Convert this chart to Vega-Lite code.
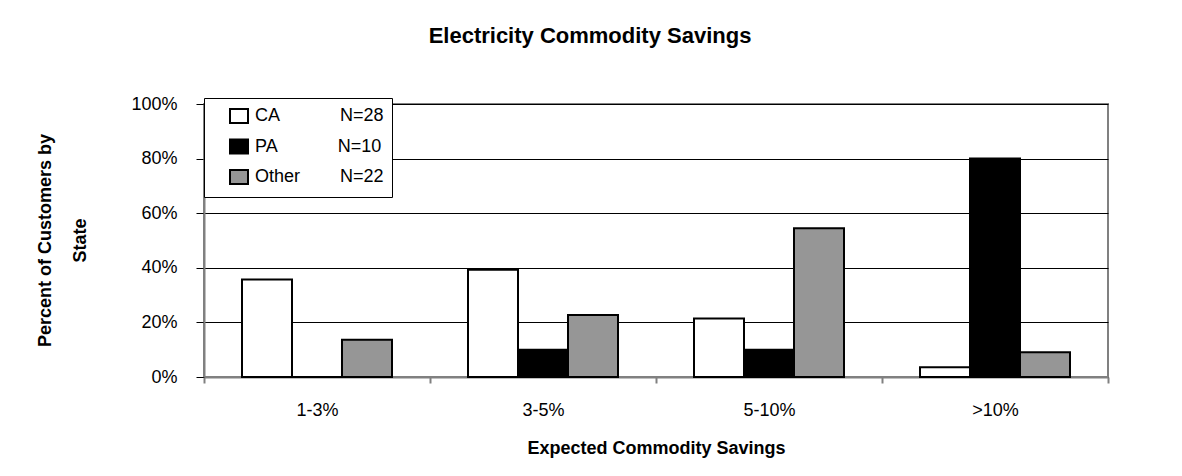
{
  "$schema": "https://vega.github.io/schema/vega-lite/v6.json",
  "autosize": {"type": "none"},
  "padding": {"left": 204, "top": 104, "right": 74, "bottom": 99},
  "width": 904,
  "height": 273,
  "background": "white",
  "title": {
    "text": "Electricity Commodity Savings",
    "font": "Liberation Sans",
    "fontSize": 22,
    "fontWeight": "bold",
    "color": "#000",
    "anchor": "middle",
    "baseline": "alphabetic",
    "offset": 30,
    "dx": -66
  },
  "data": {
    "values": [
      {"savings": "1-3%", "state": "CA", "pct": 0.357},
      {"savings": "3-5%", "state": "CA", "pct": 0.393},
      {"savings": "5-10%", "state": "CA", "pct": 0.214},
      {"savings": ">10%", "state": "CA", "pct": 0.036},
      {"savings": "1-3%", "state": "PA", "pct": 0.0},
      {"savings": "3-5%", "state": "PA", "pct": 0.1},
      {"savings": "5-10%", "state": "PA", "pct": 0.1},
      {"savings": ">10%", "state": "PA", "pct": 0.8},
      {"savings": "1-3%", "state": "Other", "pct": 0.136},
      {"savings": "3-5%", "state": "Other", "pct": 0.227},
      {"savings": "5-10%", "state": "Other", "pct": 0.545},
      {"savings": ">10%", "state": "Other", "pct": 0.091}
    ]
  },
  "mark": {"type": "bar", "stroke": "#000", "strokeWidth": 2},
  "encoding": {
    "x": {
      "field": "savings",
      "type": "nominal",
      "sort": ["1-3%", "3-5%", "5-10%", ">10%"],
      "scale": {"paddingInner": 0, "paddingOuter": 0},
      "axis": {
        "title": "Expected Commodity Savings",
        "titleFont": "Liberation Sans",
        "titleFontSize": 18,
        "titleFontWeight": "bold",
        "titleColor": "#000",
        "titleBaseline": "top",
        "titleY": 62,
        "labelAngle": 0,
        "labelFont": "Liberation Sans",
        "labelFontSize": 18,
        "labelColor": "#000",
        "labelPadding": 18,
        "tickBand": "extent",
        "tickSize": 6,
        "tickColor": "#808080",
        "tickWidth": 2,
        "domainColor": "#808080",
        "domainWidth": 2,
        "grid": false
      }
    },
    "xOffset": {
      "field": "state",
      "type": "nominal",
      "sort": ["CA", "PA", "Other"],
      "scale": {"paddingInner": 0, "paddingOuter": 0.76}
    },
    "y": {
      "field": "pct",
      "type": "quantitative",
      "scale": {"domain": [0, 1], "nice": false},
      "axis": {
        "title": ["Percent of Customers by", "State"],
        "titleFont": "Liberation Sans",
        "titleFontSize": 18,
        "titleFontWeight": "bold",
        "titleColor": "#000",
        "titleLineHeight": 35,
        "titleX": -150,
        "titleY": 136,
        "values": [0, 0.2, 0.4, 0.6, 0.8, 1],
        "format": ".0%",
        "labelFont": "Liberation Sans",
        "labelFontSize": 18,
        "labelColor": "#000",
        "labelPadding": 19,
        "tickSize": 8,
        "tickColor": "#000",
        "tickWidth": 1,
        "domainColor": "#808080",
        "domainWidth": 2,
        "grid": true,
        "gridColor": "#000",
        "gridWidth": 1
      }
    },
    "color": {
      "field": "state",
      "type": "nominal",
      "scale": {"domain": ["CA", "PA", "Other"], "range": ["#ffffff", "#000000", "#969696"]},
      "legend": {
        "title": null,
        "orient": "none",
        "legendX": 0,
        "legendY": -6,
        "direction": "vertical",
        "fillColor": "#ffffff",
        "strokeColor": "#000",
        "padding": 8,
        "symbolType": "M-1,-0.78H1V0.78H-1Z",
        "symbolSize": 324,
        "symbolStrokeColor": "#000",
        "symbolStrokeWidth": 2,
        "symbolOffset": 17,
        "labelOffset": 6,
        "labelFont": "Liberation Sans",
        "labelFontSize": 18,
        "labelColor": "#000",
        "labelLimit": 400,
        "rowPadding": 6.5,
        "labelExpr": "datum.label === 'CA' ? 'CA\u00a0\u00a0\u00a0\u00a0\u00a0\u00a0\u00a0\u00a0\u00a0\u00a0\u00a0\u00a0N=28' : datum.label === 'PA' ? 'PA\u00a0\u00a0\u00a0\u00a0\u00a0\u00a0\u00a0\u00a0\u00a0\u00a0\u00a0\u00a0N=10' : 'Other\u00a0\u00a0\u00a0\u00a0\u00a0\u00a0\u00a0\u00a0N=22'"
      }
    }
  },
  "config": {
    "view": {"stroke": "#808080", "strokeWidth": 2}
  }
}
